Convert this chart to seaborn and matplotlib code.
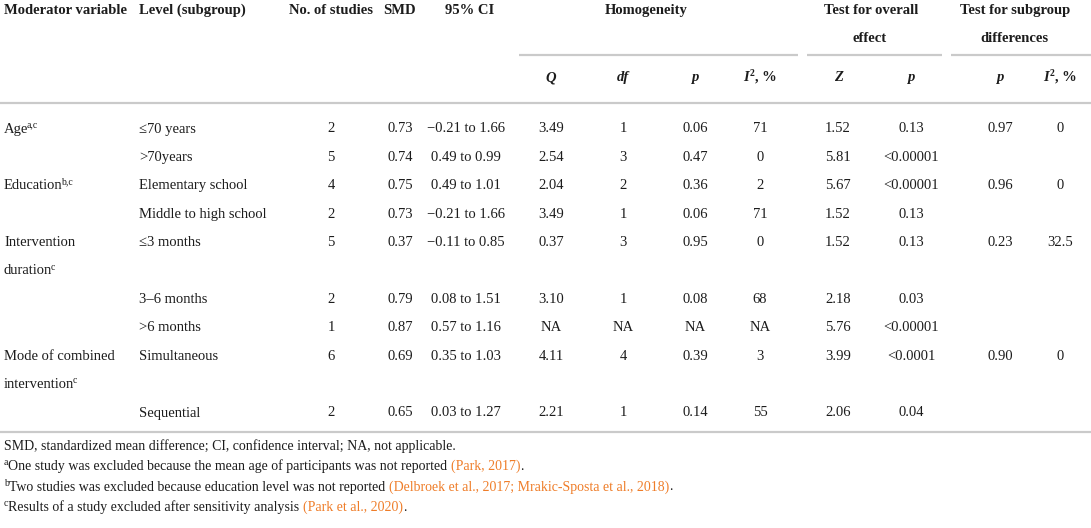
import matplotlib
matplotlib.use("Agg")
import matplotlib.pyplot as plt
import seaborn as sns

# subgroup rows of the table
levels = ["≤70 years", ">70years", "Elementary school", "Middle to high school",
          "≤3 months", "3–6 months", ">6 months", "Simultaneous", "Sequential"]
n_studies = [2, 5, 4, 2, 5, 2, 1, 6, 2]
smd = [0.73, 0.74, 0.75, 0.73, 0.37, 0.79, 0.87, 0.69, 0.65]
ci_low = [-0.21, 0.49, 0.49, -0.21, -0.11, 0.08, 0.57, 0.35, 0.03]
ci_high = [1.66, 0.99, 1.01, 1.66, 0.85, 1.51, 1.16, 1.03, 1.27]
q_vals = [3.49, 2.54, 2.04, 3.49, 0.37, 3.10, None, 4.11, 2.21]
df_vals = [1, 3, 2, 1, 3, 1, None, 4, 1]
p_het = [0.06, 0.47, 0.36, 0.06, 0.95, 0.08, None, 0.39, 0.14]
i2_het = [71, 0, 2, 71, 0, 68, None, 3, 55]
z_vals = [1.52, 5.81, 5.67, 1.52, 1.52, 2.18, 5.76, 3.99, 2.06]
p_effect = ["0.13", "<0.00001", "<0.00001", "0.13", "0.13", "0.03", "<0.00001", "<0.0001", "0.04"]
p_sub = [0.97, None, 0.96, None, 0.23, None, None, 0.90, None]
i2_sub = [0, None, 0, None, 32.5, None, None, 0, None]

# moderator labels (text, superscript, line of the table)
moderators = [("Age", "a,c", 0), ("Education", "b,c", 2), ("Intervention", "", 4),
              ("duration", "c", 5), ("Mode of combined", "", 8), ("intervention", "c", 9)]
data_lines = [0, 1, 2, 3, 4, 6, 7, 8, 10]

footnote_smd = "SMD, standardized mean difference; CI, confidence interval; NA, not applicable."
footnotes = [
    ("a", "One study was excluded because the mean age of participants was not reported ", "(Park, 2017)"),
    ("b", "Two studies was excluded because education level was not reported ",
     "(Delbroek et al., 2017; Mrakic-Sposta et al., 2018)"),
    ("c", "Results of a study excluded after sensitivity analysis ", "(Park et al., 2020)"),
]

INK = "#1c1c1c"
LINK = "#ef7d29"
RULE = "#cacaca"
FS = 10.5
SUP = 7

sns.set_theme(style="white")
plt.rcParams["font.family"] = ["Liberation Serif", "DejaVu Serif"]

fig = plt.figure(figsize=(10.91, 5.28), dpi=100)
ax = fig.add_axes([0, 0, 1, 1])
ax.set_xlim(0, 1091)
ax.set_ylim(528, 0)
ax.axis("off")

centered = []


def rich(x, y, parts, center=False, nudge=-1.5):
    # parts: (text, sup, kwargs); y is the baseline in pixels
    arts = []
    prev = None
    for s, sup, kw in parts:
        yy = y - 5 if sup else y
        size = SUP if sup else FS
        kw = dict(kw)
        kw.setdefault("color", INK)
        if prev is None:
            prev = ax.text(x, yy, s, va="baseline", ha="left", fontsize=size, **kw)
        else:
            dx = nudge if sup else 0
            prev = ax.annotate(s, xy=(1, yy), xycoords=(prev, "data"), xytext=(dx, 0),
                               textcoords="offset points", va="baseline",
                               ha="left", fontsize=size, **kw)
        arts.append(prev)
    if center:
        centered.append((x, arts))
    return arts


def fmt(v, spec="{:.2f}"):
    if v is None:
        return "NA"
    return spec.format(v).replace("-", "−")


B = dict(fontweight="bold")
BI = dict(fontweight="bold", fontstyle="italic")

# header
hy1, hy2, hy3 = 14, 42, 81
ax.text(4, hy1, "Moderator variable", fontsize=FS, color=INK, va="baseline", **B)
ax.text(139, hy1, "Level (subgroup)", fontsize=FS, color=INK, va="baseline", **B)
for xc, lab in [(331, "No. of studies"), (400, "SMD"), (470, "95% CI"), (646, "Homogeneity"),
                (871, "Test for overall"), (1015, "Test for subgroup")]:
    ax.text(xc, hy1, lab, fontsize=FS, color=INK, ha="center", va="baseline", **B)
ax.text(870, hy2, "effect", fontsize=FS, color=INK, ha="center", va="baseline", **B)
ax.text(1014, hy2, "differences", fontsize=FS, color=INK, ha="center", va="baseline", **B)

for xc, lab in [(551, "Q"), (623, "df"), (695, "p"), (838, "Z"), (911, "p"), (1000, "p")]:
    ax.text(xc, hy3, lab, fontsize=FS, color=INK, ha="center", va="baseline", **BI)
for xc in [760, 1060]:
    rich(xc, hy3, [("I", False, BI), ("2", True, B), (", %", False, B)], center=True, nudge=0.5)

# rules
ax.hlines(55, 519, 798, color=RULE, lw=1.6)
ax.hlines(55, 807, 942, color=RULE, lw=1.6)
ax.hlines(55, 951, 1091, color=RULE, lw=1.6)
ax.hlines(103, 0, 1091, color=RULE, lw=1.6)
ax.hlines(432, 0, 1091, color=RULE, lw=1.6)

row0, step = 132.5, 28.4

for text, sup, line in moderators:
    parts = [(text, False, {})]
    if sup:
        parts.append((sup, True, {}))
    rich(4, row0 + line * step, parts)

for i, line in enumerate(data_lines):
    y = row0 + line * step
    ax.text(139, y, levels[i], fontsize=FS, color=INK, va="baseline")
    cells = [
        (331, str(n_studies[i])),
        (400, fmt(smd[i])),
        (466, fmt(ci_low[i]) + " to " + fmt(ci_high[i])),
        (551, fmt(q_vals[i])),
        (623, fmt(df_vals[i], "{:d}")),
        (695, fmt(p_het[i])),
        (760, fmt(i2_het[i], "{:d}")),
        (838, fmt(z_vals[i])),
        (911, p_effect[i]),
        (1000, "" if p_sub[i] is None else fmt(p_sub[i])),
        (1060, "" if i2_sub[i] is None else fmt(i2_sub[i], "{:g}")),
    ]
    for xc, s in cells:
        ax.text(xc, y, s, fontsize=FS, color=INK, ha="center", va="baseline")

# footnotes
ax.text(4, 450, footnote_smd, fontsize=FS - 0.5, color=INK, va="baseline")
for k, (letter, body, ref) in enumerate(footnotes):
    y = 470 + k * 20.5
    arts = rich(4, y, [(letter, True, {}), (body, False, {}), (ref, False, {"color": LINK}),
                       (".", False, {})])
    for a in arts[1:]:
        a.set_fontsize(FS - 0.5)

fig.canvas.draw()
r = fig.canvas.get_renderer()
for xc, arts in centered:
    left = arts[0].get_window_extent(r).x0
    right = arts[-1].get_window_extent(r).x1
    dx = xc - (left + right) / 2
    x0, y0 = arts[0].get_position()
    arts[0].set_position((x0 + dx, y0))

fig.savefig("out.png", dpi=100)
